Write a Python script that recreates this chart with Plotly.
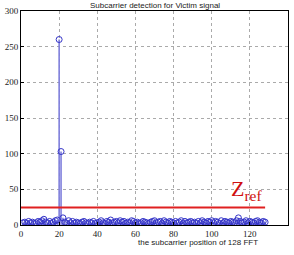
import plotly.graph_objects as go

positions = list(range(1, 129))
magnitudes = [
    3, 4, 2, 5, 3, 4, 2, 3, 5, 4,
    6, 8, 4, 3, 5, 2, 4, 6, 7, 260,
    103, 10, 4, 2, 6, 3, 5, 2, 4, 3,
    2, 4, 5, 3, 2, 4, 3, 5, 2, 3,
    4, 6, 3, 2, 5, 4, 7, 3, 4, 5,
    3, 6, 4, 5, 2, 4, 3, 6, 5, 3,
    4, 2, 3, 5, 4, 3, 2, 4, 5, 6,
    3, 4, 5, 2, 6, 4, 3, 5, 4, 3,
    5, 3, 4, 6, 2, 5, 3, 4, 5, 3,
    4, 2, 5, 3, 6, 4, 3, 5, 4, 6,
    3, 5, 4, 2, 6, 3, 5, 4, 3, 5,
    4, 3, 6, 10, 5, 3, 4, 6, 3, 5,
    4, 3, 5, 6, 4, 3, 5, 4,
]
zref_x = [0, 128]
zref_y = [24.5, 24.5]
x_ticks = [0, 20, 40, 60, 80, 100, 120, 140]
y_ticks = [0, 50, 100, 150, 200, 250, 300]

font_serif = "Liberation Serif"

fig = go.Figure()
fig.add_trace(go.Scatter(
    x=positions, y=magnitudes, mode="markers",
    marker=dict(symbol="circle-open", size=6, color="#3535c8", line=dict(width=1)),
    error_y=dict(type="data", symmetric=False, array=[0] * len(magnitudes),
                 arrayminus=magnitudes, width=0, thickness=1.6, color="#7f7fdc"),
    showlegend=False, hoverinfo="skip",
))
fig.add_trace(go.Scatter(
    x=zref_x, y=zref_y, mode="lines",
    line=dict(color="#e02020", width=2),
    showlegend=False, hoverinfo="skip",
))

axis_common = dict(
    showline=True, linecolor="black", linewidth=1, mirror=True,
    showgrid=True, gridcolor="#aaaaaa", griddash="dot", gridwidth=1,
    ticks="inside", ticklen=3, tickcolor="black",
    tickfont=dict(family=font_serif, size=9, color="#222222"),
    zeroline=False,
)
fig.update_xaxes(range=[0, 140], tickvals=x_ticks, **axis_common)
fig.update_yaxes(range=[0, 300], tickvals=y_ticks, **axis_common)

fig.add_annotation(
    text="Subcarrier detection for Victim signal", xref="paper", yref="paper",
    x=0.5, y=1.027, xanchor="center", yanchor="middle", showarrow=False,
    font=dict(family="Liberation Sans", size=8, color="#222222"),
)
fig.add_annotation(
    text="the subcarrier position of 128 FFT", xref="paper", yref="paper",
    x=0.663, y=-0.08, xanchor="center", yanchor="middle", showarrow=False,
    font=dict(family="Liberation Sans", size=8, color="#222222"),
)
fig.add_annotation(
    text="Z<sub>ref</sub>", xref="x", yref="y",
    x=118, y=49, xanchor="center", yanchor="middle", showarrow=False,
    font=dict(family=font_serif, size=22, color="#d01010"),
)

fig.update_layout(
    width=294, height=255,
    margin=dict(l=19, r=5, t=11, b=30),
    paper_bgcolor="white", plot_bgcolor="white",
)

fig.write_html("out.html")
